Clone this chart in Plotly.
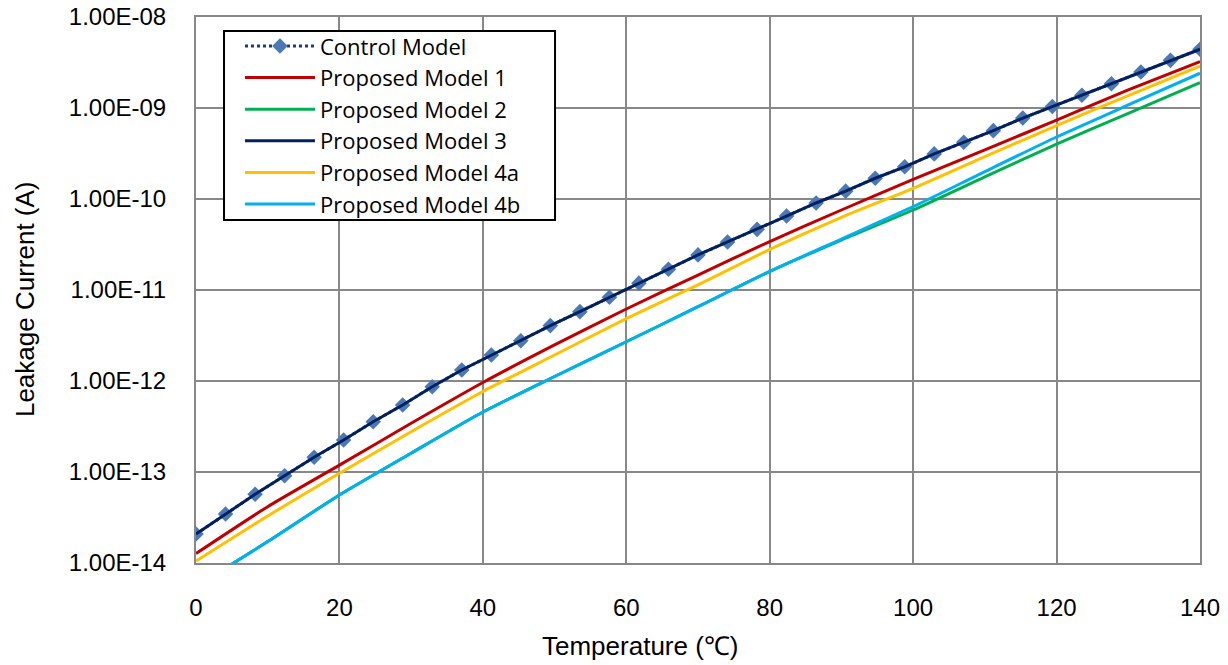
import plotly.graph_objects as go

# ---------------- data ----------------
temp_ctrl = [0, 4.12, 8.24, 12.35, 16.47, 20.59, 24.71, 28.82, 32.94, 37.06,
             41.18, 45.29, 49.41, 53.53, 57.65, 61.76, 65.88, 70.0, 74.12, 78.24,
             82.35, 86.47, 90.59, 94.71, 98.82, 102.94, 107.06, 111.18, 115.29,
             119.41, 123.53, 127.65, 131.76, 135.88, 140]

control = [2.08e-14, 3.45e-14, 5.69e-14, 9.10e-14, 1.45e-13, 2.25e-13, 3.57e-13,
           5.45e-13, 8.65e-13, 1.32e-12, 1.93e-12, 2.77e-12, 4.06e-12, 5.78e-12,
           8.32e-12, 1.19e-11, 1.69e-11, 2.43e-11, 3.37e-11, 4.64e-11, 6.50e-11,
           9.04e-11, 1.22e-10, 1.69e-10, 2.26e-10, 3.13e-10, 4.20e-10, 5.64e-10,
           7.76e-10, 1.04e-09, 1.38e-09, 1.85e-09, 2.49e-09, 3.34e-09, 4.42e-09]

model3 = [2.08e-14, 3.45e-14, 5.69e-14, 9.10e-14, 1.45e-13, 2.25e-13, 3.57e-13,
          5.45e-13, 8.65e-13, 1.32e-12, 1.93e-12, 2.77e-12, 4.06e-12, 5.78e-12,
          8.32e-12, 1.19e-11, 1.69e-11, 2.43e-11, 3.37e-11, 4.64e-11, 6.50e-11,
          9.04e-11, 1.22e-10, 1.69e-10, 2.26e-10, 3.13e-10, 4.20e-10, 5.64e-10,
          7.76e-10, 1.04e-09, 1.38e-09, 1.85e-09, 2.49e-09, 3.34e-09, 4.42e-09]

temp = [0, 10, 20, 30, 40, 50, 60, 70, 80, 90, 100, 110, 120, 130, 140]

model1 = [1.27e-14, 4.16e-14, 1.19e-13, 3.43e-13, 9.63e-13, 2.49e-12, 6.18e-12,
          1.46e-11, 3.41e-11, 7.57e-11, 1.64e-10, 3.46e-10, 7.38e-10, 1.58e-09, 3.24e-09]

model2 = [5.5e-15, 1.72e-14, 5.59e-14, 1.61e-13, 4.56e-13, 1.12e-12, 2.70e-12,
          6.55e-12, 1.60e-11, 3.54e-11, 7.57e-11, 1.75e-10, 4.02e-10, 8.74e-10, 1.90e-09]

model4a = [1.05e-14, 3.29e-14, 9.68e-14, 2.77e-13, 7.67e-13, 1.93e-12, 4.84e-12,
           1.14e-11, 2.79e-11, 6.29e-11, 1.31e-10, 2.92e-10, 6.42e-10, 1.37e-09, 2.89e-09]

model4b = [5.5e-15, 1.72e-14, 5.59e-14, 1.61e-13, 4.56e-13, 1.12e-12, 2.70e-12,
           6.55e-12, 1.60e-11, 3.63e-11, 8.23e-11, 2.00e-10, 4.80e-10, 1.08e-09, 2.41e-09]

y_tickvals = [1e-14, 1e-13, 1e-12, 1e-11, 1e-10, 1e-9, 1e-8]
y_ticktext = ["1.00E-14", "1.00E-13", "1.00E-12", "1.00E-11",
              "1.00E-10", "1.00E-09", "1.00E-08"]
x_tickvals = [0, 20, 40, 60, 80, 100, 120, 140]

# ---------------- figure ----------------
FONT = "Liberation Sans, Arial, sans-serif"
LEG_FONT = "Open Sans, Liberation Sans, sans-serif"
GRID = "#888888"

fig = go.Figure()

fig.add_trace(go.Scatter(
    x=temp_ctrl, y=control, name="Control Model", mode="lines+markers",
    line=dict(color="#1F3C77", width=3, dash="dot"),
    marker=dict(symbol="diamond", size=12, color="#4A79B5"),
))
lw = 3
fig.add_trace(go.Scatter(x=temp, y=model1, name="Proposed Model 1", mode="lines",
                         line=dict(color="#C00000", width=lw, shape="spline", smoothing=0.6)))
fig.add_trace(go.Scatter(x=temp, y=model2, name="Proposed Model 2", mode="lines",
                         line=dict(color="#00B050", width=lw, shape="spline", smoothing=0.6)))
fig.add_trace(go.Scatter(x=temp_ctrl, y=model3, name="Proposed Model 3", mode="lines",
                         line=dict(color="#002060", width=lw)))
fig.add_trace(go.Scatter(x=temp, y=model4a, name="Proposed Model 4a", mode="lines",
                         line=dict(color="#FFC000", width=lw, shape="spline", smoothing=0.6)))
fig.add_trace(go.Scatter(x=temp, y=model4b, name="Proposed Model 4b", mode="lines",
                         line=dict(color="#00B0F0", width=lw, shape="spline", smoothing=0.6)))

fig.update_layout(
    width=1228, height=665,
    margin=dict(l=196, r=28, t=17, b=102, autoexpand=False),
    paper_bgcolor="white", plot_bgcolor="white",
    font=dict(family=FONT, size=24, color="black"),
    showlegend=True,
    legend=dict(
        x=0.0438, y=0.985, xanchor="left", yanchor="top",
        bgcolor="rgba(0,0,0,0)", borderwidth=0,
        font=dict(family=LEG_FONT, size=22, color="black"),
        itemwidth=70,
    ),
    shapes=[
        dict(type="rect", xref="paper", yref="paper", layer="above",
             x0=0.0279, x1=0.3576, y0=0.6282, y1=0.9744,
             fillcolor="white", line=dict(color="black", width=2)),
    ],
    xaxis=dict(
        range=[0, 140], tickvals=x_tickvals, automargin=False,
        showgrid=True, gridcolor=GRID, gridwidth=2,
        showline=True, linecolor=GRID, linewidth=2, mirror=True,
        ticks="", ticklabelstandoff=22, zeroline=False,
        tickfont=dict(family=FONT, size=24),
    ),
    yaxis=dict(
        type="log", range=[-14, -8], automargin=False,
        tickvals=y_tickvals, ticktext=y_ticktext,
        showgrid=True, gridcolor=GRID, gridwidth=2,
        showline=True, linecolor=GRID, linewidth=2, mirror=True,
        ticks="", ticklabelstandoff=23, zeroline=False,
        tickfont=dict(family=FONT, size=24),
    ),
    annotations=[
        dict(text="Temperature (℃)", xref="paper", yref="paper",
             x=0.443, y=-0.152, xanchor="center", yanchor="middle",
             showarrow=False, font=dict(family=FONT, size=26)),
        dict(text="Leakage Current (A)", xref="paper", yref="paper",
             x=-0.171, y=0.484, xanchor="center", yanchor="middle", textangle=-90,
             showarrow=False, font=dict(family=FONT, size=26)),
    ],
)

fig.write_html("out.html", config={"displayModeBar": False},
               post_script="document.body.style.margin='0';")
